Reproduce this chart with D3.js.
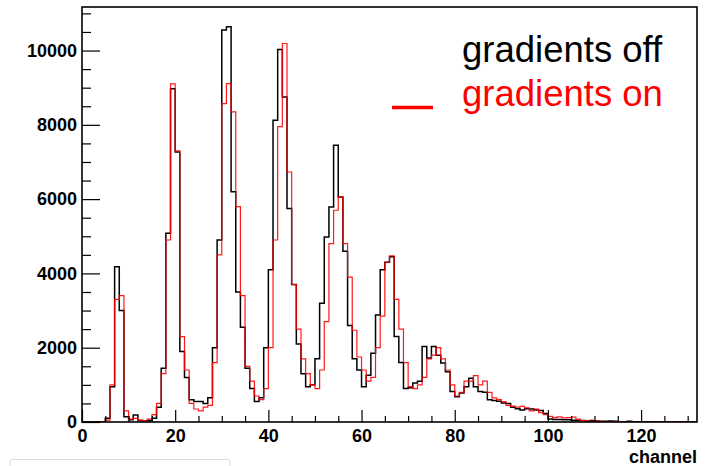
<!DOCTYPE html>
<html>
<head>
<meta charset="utf-8">
<script src="https://cdn.jsdelivr.net/npm/d3@7"></script>
<style>
  body { margin: 0; background: #fff; }
  text { font-family: "Liberation Sans", Arial, Helvetica, sans-serif; }
</style>
</head>
<body>
<svg id="chart"></svg>
<script>
// counts per channel (bin width 1)
const countsOff = [
    0, 0, 0, 0, 0, 100, 950, 4180, 3000, 140,
    60, 190, 40, 30, 40, 100, 400, 1450, 5080, 8970,
    7270, 1900, 1200, 600, 550, 550, 500, 650, 2000, 4900,
    10550, 10640, 6200, 3500, 2550, 1450, 900, 550, 650, 2000,
    4100, 8120, 10030, 8750, 5750, 3700, 2100, 1300, 950, 1000,
    1700, 3200, 4980, 5790, 7450, 6060, 4600, 2600, 1700, 1400,
    950, 1260, 1850, 2880, 4100, 4300, 4450, 2300, 1600, 900,
    920, 1050, 1100, 2030, 1720, 2030, 1800, 1590, 1350, 820,
    680, 780, 950, 1180, 950, 820, 800, 600, 580, 560,
    510, 500, 400, 360, 320, 360, 350, 320, 310, 230,
    80, 70, 70, 60, 60, 50, 40, 40, 30, 40,
    30, 20, 20, 30, 20, 10, 10, 20, 10, 10,
    10, 5, 0, 0, 0, 0, 0, 0, 0, 0,
    0, 0
]

const countsOn = [
    0, 0, 0, 0, 0, 50, 1000, 3300, 3400, 300,
    80, 100, 50, 40, 80, 200, 500, 1300, 4900, 9100,
    7300, 2300, 1400, 500, 350, 300, 400, 450, 1600, 4500,
    8570, 9110, 8350, 5800, 3400, 1500, 1100, 700, 600, 900,
    2000, 4900, 7950, 10190, 6730, 3700, 2500, 1700, 1300, 1000,
    900, 1400, 2700, 4800, 5700, 6060, 4800, 3900, 2470, 1750,
    1400, 1100, 1200, 2000, 2850, 4300, 4470, 3300, 2500, 1600,
    950, 900, 1000, 1200, 1700, 1800, 2000, 1700, 1400, 1000,
    700, 800, 1100, 1100, 1250, 1000, 1100, 800, 650, 600,
    550, 450, 430, 400, 420, 380, 300, 350, 250, 200,
    150, 120, 140, 110, 120, 130, 80, 40, 30, 20,
    30, 20, 10, 10, 10, 5, 0, 0, 0, 0,
    0, 0, 0, 0, 0, 0, 0, 0, 0, 0,
    0, 0
]

const xMajorTicks = [0, 20, 40, 60, 80, 100, 120]
const yMajorTicks = [0, 2000, 4000, 6000, 8000, 10000]
const legendLabels = ["gradients off", "gradients on"]
const seriesColors = ["#000000", "#ff0000"]

const width = 710
const height = 466
const pad_left = 82
const pad_right = 13
const pad_top = 7
const pad_bottom = 44

const svg = d3.select("#chart").attr("width", width).attr("height", height)

// ROOT style: max = 1.05 * highest bin
const yMax = 1.05 * d3.max(countsOff.concat(countsOn))
const xScale = d3.scaleLinear().domain([0, countsOff.length]).range([pad_left, width - pad_right])
const yScale = d3.scaleLinear().domain([0, yMax]).range([height - pad_bottom, pad_top])

svg.append("defs").append("clipPath").attr("id", "plot-clip")
    .append("rect")
    .attr("x", pad_left).attr("y", pad_top)
    .attr("width", width - pad_right - pad_left)
    .attr("height", height - pad_bottom - pad_top)

function histPath(counts) {
    let pts = counts.map((v, i) => [i, v])
    pts.push([counts.length, counts[counts.length - 1]])
    return d3.line()
        .x(d => xScale(d[0]))
        .y(d => yScale(d[1]))
        .curve(d3.curveStepAfter)(pts)
}

const hist = svg.append("g").attr("clip-path", "url(#plot-clip)")
hist.append("path")
    .attr("d", histPath(countsOff))
    .attr("fill", "none")
    .attr("stroke", seriesColors[0])
    .attr("stroke-width", 1.5)
hist.append("path")
    .attr("d", histPath(countsOn))
    .attr("fill", "none")
    .attr("stroke", seriesColors[1])
    .attr("stroke-width", 1.2)
    .attr("stroke-opacity", 0.9)

// minor ticks
let yMinor = d3.range(0, yMax, 500).filter(v => v % 2000 !== 0)
svg.append("g")
    .attr("transform", `translate(${pad_left},0)`)
    .call(d3.axisLeft(yScale).tickValues(yMinor).tickSize(-9).tickFormat(""))
let xMinor = d3.range(0, countsOff.length + 0.1, 5).filter(v => v % 20 !== 0)
svg.append("g")
    .attr("transform", `translate(0,${height - pad_bottom})`)
    .call(d3.axisBottom(xScale).tickValues(xMinor).tickSize(-6).tickFormat(""))

// major ticks + labels
const yAxis = svg.append("g")
    .attr("transform", `translate(${pad_left},0)`)
    .call(d3.axisLeft(yScale).tickValues(yMajorTicks).tickSize(-18).tickPadding(5).tickFormat(d3.format("d")))
const xAxis = svg.append("g")
    .attr("transform", `translate(0,${height - pad_bottom})`)
    .call(d3.axisBottom(xScale).tickValues(xMajorTicks).tickSize(-12).tickPadding(7).tickFormat(d3.format("d")))

svg.selectAll(".domain").remove()
svg.selectAll(".tick line").attr("stroke", "#000").attr("stroke-width", 1.2)
for (let ax of [yAxis, xAxis]) {
    ax.selectAll("text")
        .attr("fill", "#000")
        .style("font-size", "18px")
        .style("font-weight", "bold")
}

// frame
svg.append("rect")
    .attr("x", pad_left).attr("y", pad_top)
    .attr("width", width - pad_right - pad_left)
    .attr("height", height - pad_bottom - pad_top)
    .attr("fill", "none")
    .attr("stroke", "#000")
    .attr("stroke-width", 1.6)

svg.append("text")
    .attr("x", width - pad_right)
    .attr("y", 463)
    .attr("text-anchor", "end")
    .style("font-size", "18px")
    .style("font-weight", "bold")
    .text("channel")

// legend
const legend = svg.append("g")
legend.selectAll("text")
    .data(legendLabels)
    .join("text")
    .attr("x", 462)
    .attr("y", (d, i) => 62 + i * 44)
    .attr("fill", (d, i) => seriesColors[i])
    .style("font-size", "36.5px")
    .text(d => d)
legend.append("line")
    .attr("x1", 392).attr("x2", 433)
    .attr("y1", 107.5).attr("y2", 107.5)
    .attr("stroke", seriesColors[1])
    .attr("stroke-width", 3.5)

// faint cropped box at the bottom left
svg.append("rect")
    .attr("x", 10).attr("y", 459.5)
    .attr("width", 220).attr("height", 14)
    .attr("rx", 2)
    .attr("fill", "none")
    .attr("stroke", "#dddddd")
</script>
</body>
</html>
